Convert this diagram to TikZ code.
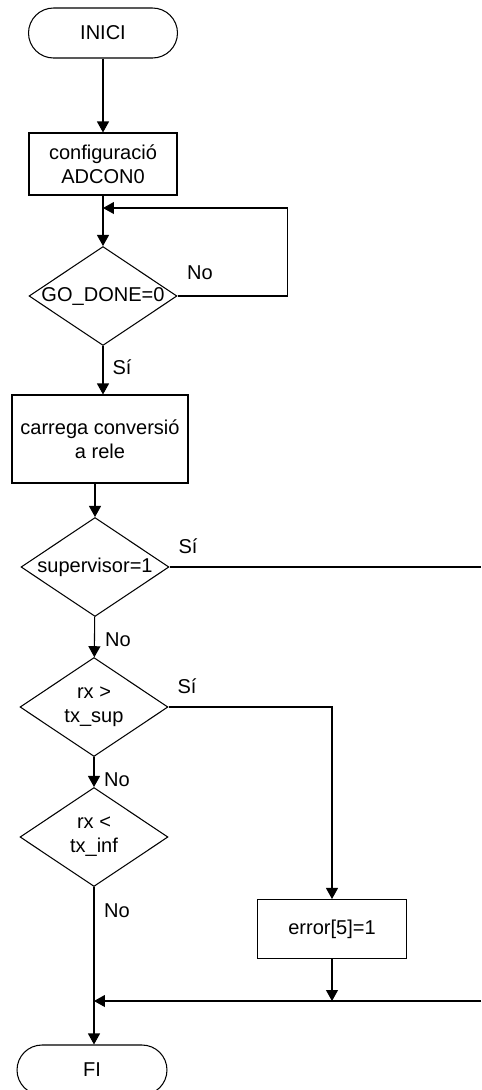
\documentclass[tikz,border=0pt]{standalone}
\usepackage{fontspec}
\setmainfont{Liberation Sans}
\usetikzlibrary{shapes.geometric,arrows.meta,positioning}

\begin{document}
\begin{tikzpicture}[x=0.02cm, y=-0.02cm, line width=0.6pt,
  every node/.style={font=\fontsize{11.4}{13.7}\selectfont},
  term/.style={draw, rounded corners=0.5cm, minimum width=2.98cm, minimum height=1cm},
  proc/.style={draw, align=center, minimum width=2.96cm, minimum height=1.24cm},
  decis/.style={draw, diamond, minimum width=2.96cm, minimum height=1.98cm, inner sep=0pt},
  flow/.style={-{Triangle[length=0.22cm, width=0.24cm]}}]
  \useasboundingbox (0,0) rectangle (481,1090);
  \node[term] (inici) at (103,33) {INICI};
  \node[proc] (config) at (103,164) {configuració\\ADCON0};
  \node[decis, label={center:GO\_DONE=0}] (godone) at (103,296) {};
  \node[proc, minimum width=3.52cm, minimum height=1.76cm] (carrega) at (100,439) {carrega conversió\\a rele};
  \node[decis, label={center:supervisor=1}] (superv) at (95,567) {};
  \node[decis, label={[align=center]center:{rx >\\tx\_sup}}] (rxsup) at (94,707) {};
  \node[decis, label={[align=center]center:{rx <\\tx\_inf}}] (rxinf) at (94,837) {};
  \node[proc, minimum width=2.98cm, minimum height=1.18cm] (error) at (332,929) {error[5]=1};
  \node[term, minimum width=3cm] (fi) at (92,1070) {FI};
  \coordinate (back) at (103,208);
  \coordinate (svend) at (481,567);
  \coordinate (join) at (94,1001);
  \coordinate (jnend) at (481,1001);
  % labels
  \node (no1) at (200,273) {No};
  \node (si1) at (122,367) {Sí};
  \node (si2) at (188,546) {Sí};
  \node (no2) at (118,640) {No};
  \node (si3) at (187,686) {Sí};
  \node (no3) at (117,780) {No};
  \node (no4) at (117,911) {No};
  % flow
  \draw[flow] (inici) -- (config);
  \draw[flow] (config) -- (godone);
  \draw[flow] (godone.east) -- ++(110,0) |- (back);
  \draw[flow] (godone) -- (godone |- carrega.north);
  \draw[flow] (carrega.south -| superv.north) -- (superv.north);
  \draw (superv.east) -- (svend);
  \draw[flow] (superv) -- (rxsup);
  \draw[flow] (rxsup.east) -| (error.north);
  \draw[flow] (rxsup) -- (rxinf);
  \draw (rxinf) -- (join);
  \draw[flow] (error) -- (error |- join);
  \draw[flow] (jnend) -- (join);
  \draw[flow] (join) -- (join |- fi.north);
\end{tikzpicture}
\end{document}
